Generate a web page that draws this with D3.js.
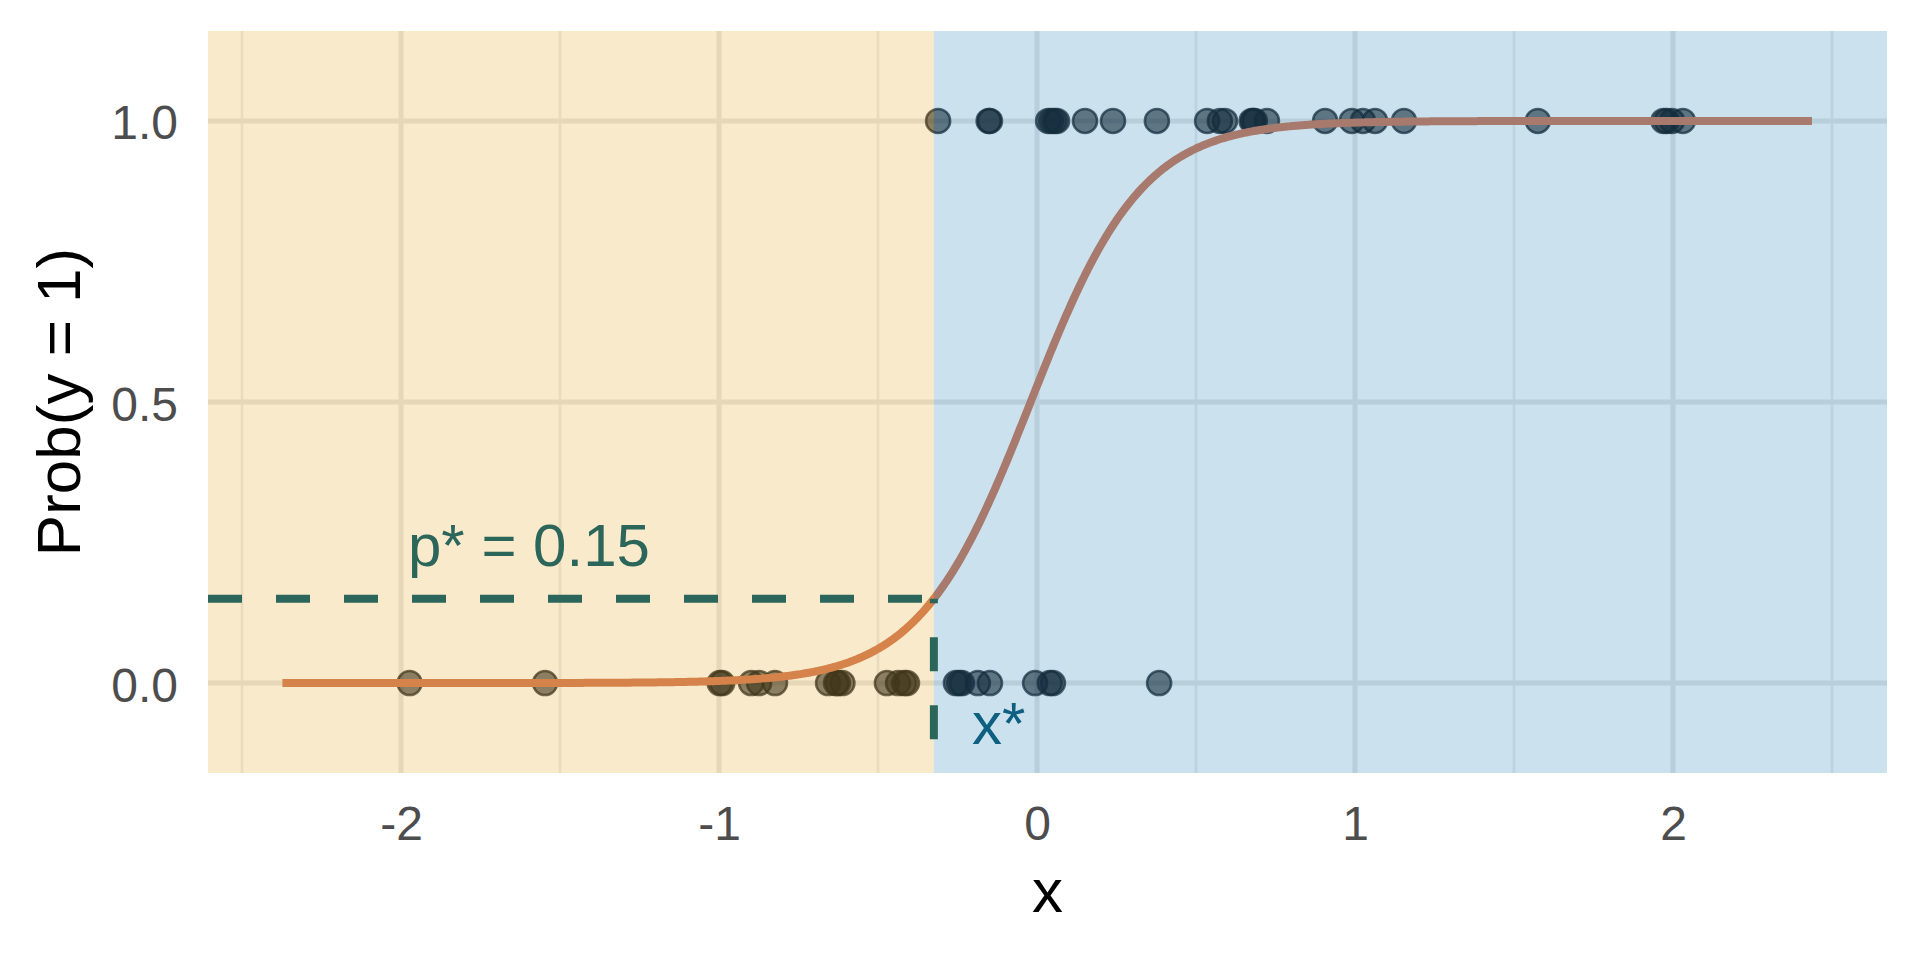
<!DOCTYPE html>
<html>
<head>
<meta charset="utf-8">
<script src="https://cdn.jsdelivr.net/npm/d3@7"></script>
<style>
  html, body { margin: 0; padding: 0; background: #ffffff; }
  svg { display: block; font-family: "Liberation Sans", Arial, Helvetica, sans-serif; }
</style>
</head>
<body>
<svg id="chart" width="1920" height="960"></svg>
<script>
// ---------------- data ----------------
const xDomain = [-2.607, 2.673];
const yDomain = [-0.16, 1.16];
const xMajorTicks = [-2, -1, 0, 1, 2];
const xMinorTicks = [-2.5, -1.5, -0.5, 0.5, 1.5, 2.5];
const yMajorTicks = [0, 0.5, 1];
const yTickLabels = ["0.0", "0.5", "1.0"];

// observations with y = 1
const xOnes = [-0.311, -0.152, -0.148, 0.035, 0.045, 0.055, 0.063, 0.151, 0.239, 0.377,
               0.535, 0.575, 0.591, 0.675, 0.680, 0.685, 0.723, 0.906, 0.990, 1.025,
               1.063, 1.154, 1.575, 1.970, 1.980, 1.997, 2.031];
// observations with y = 0
const xZeros = [-1.973, -1.547, -0.998, -0.990, -0.899, -0.874, -0.824, -0.657, -0.632,
                -0.626, -0.612, -0.472, -0.437, -0.418, -0.409, -0.255, -0.245, -0.236,
                -0.186, -0.148, -0.006, 0.040, 0.050, 0.384];

// fitted logistic model
const coefIntercept = 0.114;
const coefSlope = 5.7;
const curveRange = [-2.373, 2.44];
const pStar = 0.15;
const xStarLineBottom = -0.1;

// ---------------- layout ----------------
const panel = { left: 208, right: 1887, top: 31, bottom: 773 };
const svg = d3.select("#chart");

const x = d3.scaleLinear().domain(xDomain).range([panel.left, panel.right]);
const y = d3.scaleLinear().domain(yDomain).range([panel.bottom, panel.top]);

const logistic = v => 1 / (1 + Math.exp(-(coefIntercept + coefSlope * v)));
const logit = p => Math.log(p / (1 - p));
const xStar = (logit(pStar) - coefIntercept) / coefSlope;

const base = svg.append("g");

// white panel
base.append("rect")
  .attr("x", panel.left).attr("y", panel.top)
  .attr("width", panel.right - panel.left).attr("height", panel.bottom - panel.top)
  .attr("fill", "#ffffff");

// grid
const grid = base.append("g");
grid.selectAll("line.vminor").data(xMinorTicks).join("line")
  .attr("x1", d => x(d)).attr("x2", d => x(d))
  .attr("y1", panel.top).attr("y2", panel.bottom)
  .attr("stroke", "#ebebeb").attr("stroke-width", 2.6);
grid.selectAll("line.vmajor").data(xMajorTicks).join("line")
  .attr("x1", d => x(d)).attr("x2", d => x(d))
  .attr("y1", panel.top).attr("y2", panel.bottom)
  .attr("stroke", "#e6e6e6").attr("stroke-width", 5);
grid.selectAll("line.hmajor").data(yMajorTicks).join("line")
  .attr("x1", panel.left).attr("x2", panel.right)
  .attr("y1", d => y(d)).attr("y2", d => y(d))
  .attr("stroke", "#e6e6e6").attr("stroke-width", 5);

// points
const pts = [
  ...xOnes.map(v => ({ x: v, y: 1 })),
  ...xZeros.map(v => ({ x: v, y: 0 }))
];
base.append("g").selectAll("circle").data(pts).join("circle")
  .attr("cx", d => x(d.x)).attr("cy", d => y(d.y)).attr("r", 12)
  .attr("fill", "rgba(10,15,20,0.6)")
  .attr("stroke", "rgba(10,15,20,0.72)")
  .attr("stroke-width", 2.6);

// logistic curve
const curvePts = d3.range(curveRange[0], curveRange[1] + 1e-9, 0.005).map(v => [v, logistic(v)]);
base.append("path")
  .datum(curvePts)
  .attr("d", d3.line().x(d => x(d[0])).y(d => y(d[1])))
  .attr("fill", "none")
  .attr("stroke", "#cf7653")
  .attr("stroke-width", 8);

// translucent region tints (drawn over grid, points and curve)
svg.append("rect")
  .attr("x", panel.left).attr("y", panel.top)
  .attr("width", x(xStar) - panel.left).attr("height", panel.bottom - panel.top)
  .attr("fill", "rgb(231,171,47)").attr("fill-opacity", 0.25);
svg.append("rect")
  .attr("x", x(xStar)).attr("y", panel.top)
  .attr("width", panel.right - x(xStar)).attr("height", panel.bottom - panel.top)
  .attr("fill", "rgb(51,135,187)").attr("fill-opacity", 0.25);

// dashed threshold lines
const teal = "#2c665a";
svg.append("line")
  .attr("x1", panel.left).attr("x2", x(xStar))
  .attr("y1", y(pStar)).attr("y2", y(pStar))
  .attr("stroke", teal).attr("stroke-width", 8)
  .attr("stroke-dasharray", "34,34");
svg.append("line")
  .attr("x1", x(xStar)).attr("x2", x(xStar))
  .attr("y1", y(xStarLineBottom)).attr("y2", y(pStar))
  .attr("stroke", teal).attr("stroke-width", 8)
  .attr("stroke-dasharray", "34,34");

// annotations
svg.append("text")
  .attr("x", 408).attr("y", 566)
  .attr("font-size", 60).attr("fill", teal)
  .text("p* = " + pStar.toFixed(2));
svg.append("text")
  .attr("x", 972).attr("y", 744)
  .attr("font-size", 60).attr("fill", "#0e6080")
  .text("x*");

// axes (labels only)
const xAxis = svg.append("g")
  .attr("transform", `translate(0,${panel.bottom})`)
  .call(d3.axisBottom(x).tickValues(xMajorTicks).tickFormat(d3.format("d")).tickSize(0).tickPadding(0));
xAxis.select(".domain").remove();
xAxis.selectAll("text")
  .attr("y", 67).attr("dy", null)
  .attr("font-size", 48)
  .attr("font-family", "Liberation Sans, Arial, sans-serif")
  .attr("fill", "#4d4d4d")
  .text(d => d < 0 ? "-" + Math.abs(d) : String(d));

const yAxis = svg.append("g")
  .attr("transform", `translate(${panel.left},0)`)
  .call(d3.axisLeft(y).tickValues(yMajorTicks)
    .tickFormat((d, i) => yTickLabels[i]).tickSize(0).tickPadding(0));
yAxis.select(".domain").remove();
yAxis.selectAll("text")
  .attr("x", -30).attr("dy", null).attr("y", 18)
  .attr("font-size", 48)
  .attr("font-family", "Liberation Sans, Arial, sans-serif")
  .attr("fill", "#4d4d4d");

// axis titles
svg.append("text")
  .attr("x", (panel.left + panel.right) / 2).attr("y", 912)
  .attr("text-anchor", "middle")
  .attr("font-size", 62).attr("fill", "#000000")
  .text("x");
svg.append("text")
  .attr("transform", `translate(80,${(panel.top + panel.bottom) / 2}) rotate(-90)`)
  .attr("text-anchor", "middle")
  .attr("font-size", 62).attr("fill", "#000000")
  .text("Prob(y = 1)");
</script>
</body>
</html>
